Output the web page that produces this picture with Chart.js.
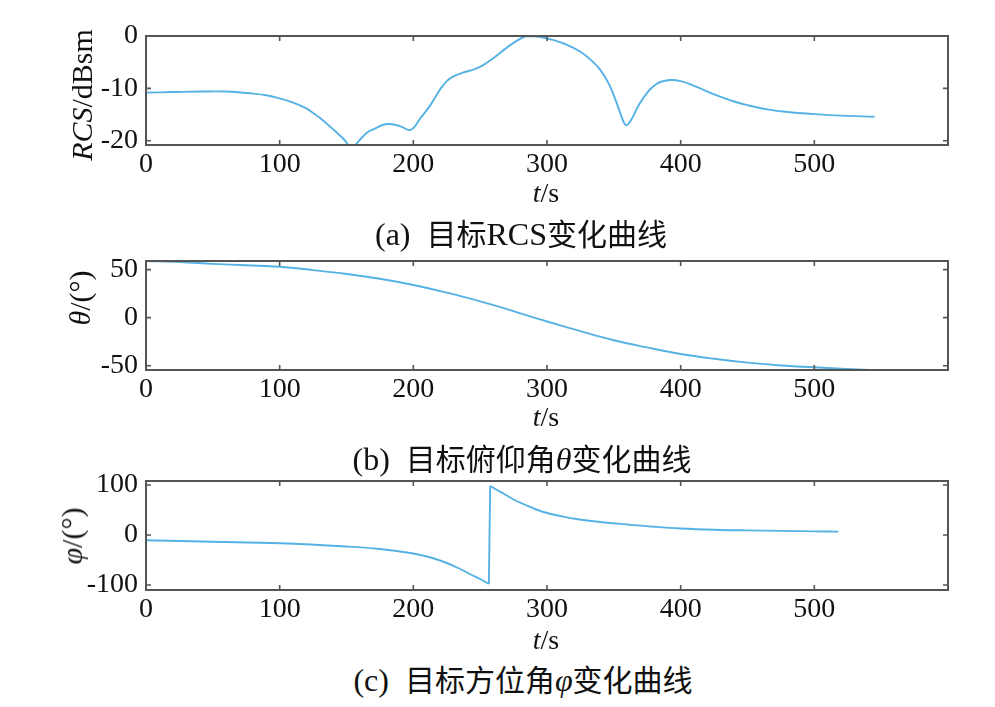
<!DOCTYPE html>
<html>
<head>
<meta charset="utf-8">
<script src="https://cdn.jsdelivr.net/npm/chart.js@4/dist/chart.umd.min.js"></script>
<style>
  html, body { margin: 0; padding: 0; background: #fff; }
  #wrap { position: relative; width: 995px; height: 707px; overflow: hidden; background: #fff; }
  canvas { position: absolute; left: 0; }
  .txt { position: absolute; font-family: 'Liberation Serif', 'Times New Roman', serif; color: #111; white-space: nowrap; line-height: 1; }
  .xt { font-size: 28px; transform: translate(-50%, -50%); }
  .yt { font-size: 30px; transform: translate(-50%, -50%) rotate(-90deg); }
  .cap { font-size: 32px; transform: translate(-50%, -50%); }
  .cj { font-family: 'Noto Sans CJK SC', sans-serif; font-size: 30px; }
  i { font-style: italic; }
</style>
</head>
<body>
<div id="wrap">
  <canvas id="c1" width="995" height="200" style="top:0px"></canvas>
  <canvas id="c2" width="995" height="200" style="top:225px"></canvas>
  <canvas id="c3" width="995" height="200" style="top:445px"></canvas>

  <div class="txt yt" style="left:82px; top:95px"><i>RCS</i>/dBsm</div>
  <div class="txt xt" style="left:546px; top:193px"><i>t</i>/s</div>
  <div class="txt cap" style="left:521px; top:233px">(a)&nbsp; <span class="cj">目标</span>RCS<span class="cj">变化曲线</span></div>

  <div class="txt yt" style="left:80px; top:298px"><i>θ</i>/(°)</div>
  <div class="txt xt" style="left:546px; top:417px"><i>t</i>/s</div>
  <div class="txt cap" style="left:522px; top:458px">(b)&nbsp; <span class="cj">目标俯仰角</span><i>θ</i><span class="cj">变化曲线</span></div>

  <div class="txt yt" style="left:72px; top:536px"><i>φ</i>/(°)</div>
  <div class="txt xt" style="left:546px; top:640px"><i>t</i>/s</div>
  <div class="txt cap" style="left:523px; top:679px">(c)&nbsp; <span class="cj">目标方位角</span><i>φ</i><span class="cj">变化曲线</span></div>
</div>
<script>
// ---- Data ----
const tRcs = [0,20,40,60,80,90,100,110,120,125,130,140,148,154,160,165,170,180,190,198,205,213,220,225,230,237,245,252,260,268,275,285,295,305,315,325,333,340,346,351,355,359,363,368,375,383,392,400,410,420,430,440,450,465,480,500,520,545];
const rcsValues = [-10.8,-10.7,-10.6,-10.6,-11.0,-11.3,-11.9,-12.7,-13.8,-14.7,-15.6,-17.8,-19.7,-21.2,-19.8,-18.5,-17.8,-16.8,-17.2,-17.9,-15.8,-13.1,-10.2,-8.6,-7.7,-7.0,-6.4,-5.6,-4.2,-2.6,-1.3,0,-0.2,-0.8,-1.7,-3.0,-4.6,-6.5,-9,-12,-14.8,-17,-16,-13.5,-10.8,-9.0,-8.4,-8.6,-9.5,-10.6,-11.6,-12.5,-13.2,-14.0,-14.5,-14.9,-15.2,-15.4];

const tTheta = [0,25,50,75,100,125,150,175,200,225,250,265,280,300,325,350,375,400,425,450,475,500,520,545];
const thetaValues = [59,58,56,54.5,53,49.5,45.5,40.5,34,26,17,11,4.5,-4,-14,-23.5,-31,-37.8,-42.8,-46.8,-49.8,-51.7,-53.2,-54.6];

const tPhi = [0,50,100,150,175,200,213,225,235,243,250,254,256.5,257.5,262,268,275,284,292,300,310,322,340,360,380,400,425,450,475,500,518];
const phiValues = [-10.6,-13.5,-16.6,-23,-28,-37,-45,-56,-68,-79,-88,-94,-98,98,91,82,71,60,51,44,38,32,26,21,16.5,13,10.5,9.2,8.2,7.3,6.7];
const phiJumpIndex = 13; // first sample after the wrap-around from -180/180 side

const xTickValues = [0, 100, 200, 300, 400, 500];
const rcsTickValues = [-20, -10, 0];
const thetaTickValues = [-50, 0, 50];
const phiTickValues = [-100, 0, 100];

// ---- Styling ----
const LINE_COLOR = '#55b2e4';
const FRAME_COLOR = '#555555';
const SERIF = "'Liberation Serif', 'Times New Roman', serif";
const TICK_FONT = { family: SERIF, size: 28, lineHeight: 1.2 };

const framePlugin = {
  id: 'frame',
  afterDraw(chart) {
    const { ctx, chartArea: a, scales } = chart;
    const L = 5;
    ctx.save();
    ctx.strokeStyle = FRAME_COLOR;
    ctx.lineWidth = 1.6;
    ctx.beginPath();
    scales.x.ticks.forEach(t => {
      const px = scales.x.getPixelForValue(t.value);
      ctx.moveTo(px, a.bottom); ctx.lineTo(px, a.bottom - L);
      ctx.moveTo(px, a.top); ctx.lineTo(px, a.top + L);
    });
    scales.y.ticks.forEach(t => {
      const py = scales.y.getPixelForValue(t.value);
      ctx.moveTo(a.left, py); ctx.lineTo(a.left + L, py);
      ctx.moveTo(a.right, py); ctx.lineTo(a.right - L, py);
    });
    ctx.stroke();
    ctx.lineWidth = 2;
    ctx.strokeRect(a.left, a.top, a.right - a.left, a.bottom - a.top);
    ctx.restore();
  }
};

function toPts(tArr, vArr, from, to) {
  const out = [];
  for (let i = from; i < to; i++) out.push({ x: tArr[i], y: vArr[i] });
  return out;
}

function ds(points, tension) {
  return { data: points, borderColor: LINE_COLOR, borderWidth: 1.9, pointRadius: 0, tension: tension, fill: false };
}

function makeChart(id, datasets, yMin, yMax, yTicks) {
  return new Chart(document.getElementById(id), {
    type: 'line',
    data: { datasets: datasets },
    options: {
      responsive: false,
      animation: false,
      layout: { padding: { top: 36, right: 47, left: 0, bottom: 0 } },
      plugins: { legend: { display: false }, tooltip: { enabled: false } },
      scales: {
        x: {
          type: 'linear', min: 0, max: 600,
          grid: { display: false, drawTicks: false }, border: { display: false },
          afterBuildTicks: s => { s.ticks = xTickValues.map(v => ({ value: v })); },
          ticks: { font: TICK_FONT, color: '#111', padding: 3, maxRotation: 0, autoSkip: false },
          afterFit: s => { s.height = 55; }
        },
        y: {
          type: 'linear', min: yMin, max: yMax,
          grid: { display: false, drawTicks: false }, border: { display: false },
          afterBuildTicks: s => { s.ticks = yTicks.map(v => ({ value: v })); },
          ticks: { font: TICK_FONT, color: '#111', padding: 8, autoSkip: false },
          afterFit: s => { s.width = 146; }
        }
      }
    },
    plugins: [framePlugin]
  });
}

function drawAll() {
  makeChart('c1', [ds(toPts(tRcs, rcsValues, 0, tRcs.length), 0.4)], -20.8, 0, rcsTickValues);
  makeChart('c2', [ds(toPts(tTheta, thetaValues, 0, tTheta.length), 0.4)], -54.5, 59, thetaTickValues);
  makeChart('c3', [
    ds(toPts(tPhi, phiValues, 0, phiJumpIndex), 0.4),
    ds(toPts(tPhi, phiValues, phiJumpIndex - 1, phiJumpIndex + 1), 0),
    ds(toPts(tPhi, phiValues, phiJumpIndex, tPhi.length), 0.4)
  ], -110, 108, phiTickValues);
}

// warm up the serif font so the canvas text uses it
(function () {
  const c = document.createElement('canvas').getContext('2d');
  c.font = "28px 'Liberation Serif'"; c.measureText('0123456789-');
})();
if (document.fonts && document.fonts.load) {
  Promise.all([
    document.fonts.load("28px 'Liberation Serif'"),
    document.fonts.load("italic 28px 'Liberation Serif'")
  ]).then(drawAll, drawAll);
} else {
  drawAll();
}
</script>
</body>
</html>
